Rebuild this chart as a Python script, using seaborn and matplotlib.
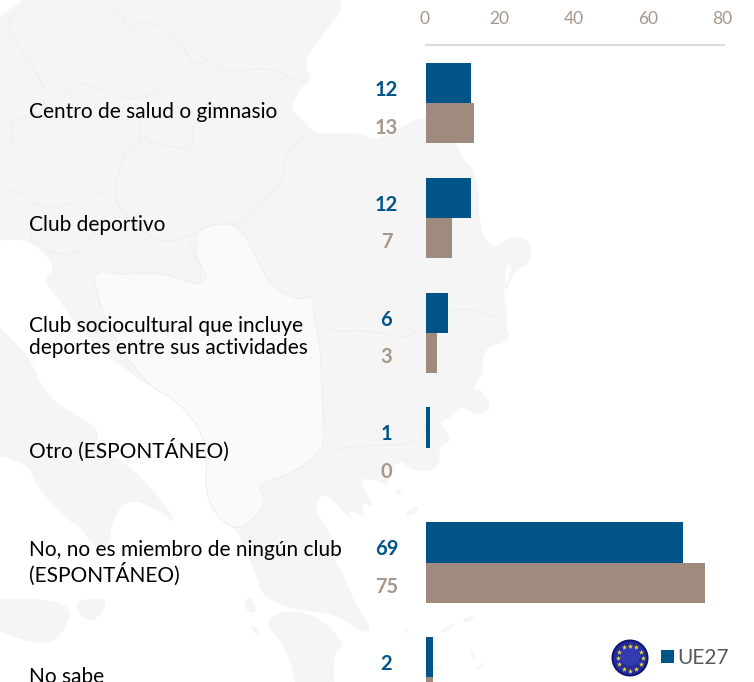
import numpy as np
import pandas as pd
import matplotlib
matplotlib.use('Agg')
import matplotlib.pyplot as plt
from matplotlib.patches import Circle, Polygon, Patch
from matplotlib.transforms import ScaledTranslation
import seaborn as sns

# Chart values
categories = ['Centro de salud o gimnasio', 'Club deportivo',
              'Club sociocultural que incluye\ndeportes entre sus actividades',
              'Otro (ESPONTÁNEO)',
              'No, no es miembro de ningún club\n(ESPONTÁNEO)', 'No sabe']
ue27 = [12, 12, 6, 1, 69, 2]
pais = [13, 7, 3, 0, 75, 2]
x_ticks = [0, 20, 40, 60, 80]

BLUE = '#005488'
BROWN = '#9f8b7e'
BROWN_TXT = '#a6978a'
W, H = 754, 682

sns.set_theme(style='white')
plt.rcParams['font.family'] = ['Lato', 'DejaVu Sans']

df = pd.DataFrame({
    'categoria': categories * 2,
    'valor': ue27 + pais,
    'serie': ['UE27'] * len(ue27) + ['País'] * len(pais),
})

fig = plt.figure(figsize=(W / 100, H / 100), dpi=100, facecolor='white')

# Faint map behind the chart, traced in pixel coordinates
bg = fig.add_axes([0, 0, 1, 1], zorder=0)
bg.set_xlim(0, W)
bg.set_ylim(H, 0)
bg.axis('off')

LAND = '#f5f5f5'
PALE = '#fafafa'
BORDER = '#efefef'


# Round off the traced corners so the coast looks less angular
def smooth(points, closed=True, rounds=2):
    pts = np.array(points, dtype=float)
    for _ in range(rounds):
        nxt = np.roll(pts, -1, axis=0) if closed else pts[1:]
        cur = pts if closed else pts[:-1]
        q = 0.75 * cur + 0.25 * nxt
        r = 0.25 * cur + 0.75 * nxt
        pts = np.empty((len(q) * 2, 2))
        pts[0::2] = q
        pts[1::2] = r
    return pts


mainland = [(-30, -30), (338, -30), (343, 10), (330, 25), (307, 55), (307, 70), (312, 82), (302, 85),
            (290, 110), (300, 117), (313, 133), (330, 133), (360, 133), (375, 141), (395, 130),
            (425, 115), (440, 125), (457, 145), (463, 160), (473, 168), (475, 178), (480, 193),
            (478, 205), (482, 235), (488, 242), (495, 249), (508, 237), (520, 237), (531, 242),
            (531, 263), (517, 270), (512, 278), (508, 288), (503, 290), (507, 313), (507, 330),
            (510, 337), (503, 343), (493, 345), (483, 353), (483, 373), (472, 389), (480, 389),
            (493, 407), (478, 417), (462, 405), (453, 416), (438, 423), (448, 432), (451, 441),
            (438, 448), (441, 460), (432, 472), (410, 470), (402, 460), (390, 470), (388, 487),
            (377, 480), (357, 478), (377, 510), (360, 500), (367, 520), (347, 507), (353, 523),
            (333, 500), (320, 493), (315, 513), (330, 530), (333, 557), (343, 573), (353, 600),
            (373, 630), (363, 633), (333, 613), (293, 610), (263, 597), (257, 577), (240, 540),
            (240, 533), (213, 513), (205, 487), (207, 463), (203, 433), (177, 400), (150, 387),
            (113, 360), (80, 330), (57, 297), (43, 280), (57, 267), (33, 243), (13, 238), (-30, 247)]
italy = [(-30, 300), (0, 327), (30, 357), (45, 395), (75, 415), (100, 430), (95, 447), (130, 465),
         (170, 510), (175, 525), (160, 510), (127, 498), (112, 520), (110, 545), (97, 550), (78, 525),
         (67, 520), (37, 487), (27, 462), (-30, 450)]
calabria = [(77, 600), (110, 597), (97, 620), (85, 620), (77, 610)]
sicily = [(-30, 598), (77, 600), (60, 640), (35, 645), (-30, 620)]
peloponnese = [(270, 617), (290, 610), (320, 617), (347, 647), (333, 650), (335, 705), (300, 705),
               (287, 647), (267, 627)]
islands = [[(243, 600), (252, 597), (257, 613), (247, 612)], [(250, 625), (257, 628), (262, 636), (255, 634)],
           [(440, 630), (456, 622), (452, 628), (442, 634)], [(462, 620), (475, 614), (472, 620), (465, 623)],
           [(402, 628), (410, 632), (408, 635)], [(433, 670), (443, 662), (440, 668)],
           [(473, 672), (486, 660), (483, 668)], [(470, 650), (476, 655), (472, 660)],
           [(395, 492), (400, 488), (402, 492), (397, 495)], [(408, 510), (420, 505), (416, 515), (405, 516)]]
balkans = [(92, 280), (100, 270), (115, 275), (160, 272), (192, 283), (205, 285), (192, 235),
           (215, 223), (240, 225), (262, 270), (275, 290), (300, 300), (315, 295), (312, 310),
           (320, 340), (323, 417), (325, 450), (290, 475), (258, 483), (265, 500), (263, 507),
           (240, 533), (213, 513), (205, 487), (207, 463), (203, 433), (177, 400), (150, 387),
           (113, 340)]
lagoon = [(508, 262), (511, 270), (507, 284), (505, 276)]
border_lines = [
    [(105, 0), (122, 15), (125, 25), (133, 33), (138, 20), (160, 25), (167, 35), (180, 40), (190, 60),
     (200, 65), (208, 58), (222, 72), (245, 70), (270, 68), (300, 82), (312, 82)],
    [(195, 62), (170, 80), (160, 90), (137, 100), (110, 95), (80, 80), (57, 100), (45, 90), (33, 67),
     (10, 33), (8, 17), (33, 0)],
    [(137, 100), (140, 133), (142, 143), (125, 150), (115, 187), (115, 200), (123, 213), (140, 230),
     (163, 243), (190, 237), (213, 223), (240, 225), (263, 203), (283, 180), (285, 160), (297, 140),
     (313, 135)],
    [(0, 188), (20, 192), (37, 207), (63, 207), (87, 195), (113, 190)],
    [(37, 207), (30, 227), (33, 243), (67, 258), (90, 243), (113, 200)],
    [(140, 133), (150, 143), (180, 148), (193, 147), (193, 120), (215, 122)],
    [(0, 140), (15, 147), (10, 117), (43, 117), (45, 90)],
    [(317, 320), (333, 332), (365, 330), (400, 337), (410, 337), (425, 320), (460, 308), (480, 312),
     (490, 317), (508, 316)],
    [(325, 450), (350, 447), (383, 445), (400, 445), (410, 442), (425, 440), (423, 423), (438, 423)],
    [(190, 237), (192, 253), (205, 270), (205, 287)],
]

for shape in [mainland, italy, calabria, sicily, peloponnese] + islands:
    bg.add_patch(Polygon(smooth(shape), closed=True, facecolor=LAND, edgecolor='none'))
bg.add_patch(Polygon(smooth(balkans), closed=True, facecolor=PALE, edgecolor=BORDER, linewidth=0.8))
bg.add_patch(Polygon(lagoon, closed=True, facecolor='white', edgecolor='none'))
for line in border_lines:
    pts = smooth(line, closed=False)
    bg.plot(pts[:, 0], pts[:, 1], color=BORDER, linewidth=0.9)

# Bars
ax = fig.add_axes([426 / W, 0, (724 - 426) / W, (H - 45) / H], zorder=1)
ax.patch.set_alpha(0)
sns.barplot(data=df, x='valor', y='categoria', hue='serie', order=categories,
            hue_order=['UE27', 'País'], palette=[BLUE, BROWN], width=0.7, gap=0,
            saturation=1, linewidth=0, legend=False, ax=ax)
ax.set_xlim(0, 80)
ax.set_ylim(5.04, -0.505)
ax.set_xlabel('')
ax.set_ylabel('')
ax.set_yticks([])
ax.set_xticks(x_ticks)
ax.xaxis.tick_top()
ax.tick_params(axis='x', length=0, pad=13, labelsize=12.5, labelcolor=BROWN_TXT)
shift_left = ScaledTranslation(-1.5 / 100, 0, fig.dpi_scale_trans)
for label in ax.get_xticklabels():
    label.set_transform(label.get_transform() + shift_left)
for side in ['left', 'right', 'bottom']:
    ax.spines[side].set_visible(False)
ax.spines['top'].set_color('#dcdcdc')
ax.spines['top'].set_linewidth(1.5)

# Value labels left of the bars (the last brown one falls below the picture)
for container, values, color, shift in zip(ax.containers, [ue27, pais], [BLUE, BROWN_TXT], [-5, -3.2]):
    for bar, val in zip(container, values):
        yc = bar.get_y() + bar.get_height() / 2
        if yc > ax.get_ylim()[0]:
            continue
        ax.annotate(str(val), xy=(0, yc), xytext=(-28.5, shift), textcoords='offset points',
                    ha='center', va='center', fontsize=14.5, fontweight='bold', color=color,
                    annotation_clip=False)

# Category labels, on their own spacing
label_px = [112, 225, 337, 450, 563, 677]
for cat, y_px in zip(categories, label_px):
    fig.text(29 / W, 1 - y_px / H, cat, ha='left', va='center', fontsize=15,
             color='black', linespacing=1.15)

# Legend
overlay = fig.add_axes([0, 0, 1, 1], zorder=2)
overlay.set_xlim(0, W)
overlay.set_ylim(H, 0)
overlay.axis('off')
overlay.add_patch(Circle((630, 658), 18.5, facecolor='#0d1470', edgecolor='none'))
overlay.add_patch(Circle((630, 658), 16.5, facecolor='#252c9c', edgecolor='none'))
overlay.add_patch(Circle((630, 656), 10, facecolor='#3a43b8', edgecolor='none', alpha=0.7))
angles = np.deg2rad(np.arange(0, 360, 30))
overlay.scatter(630 + 12.5 * np.cos(angles), 658 + 12.5 * np.sin(angles), marker='*', s=16,
                color='#e8d83a', linewidths=0)
overlay.legend(handles=[Patch(facecolor=BLUE, edgecolor='none', label='UE27')], loc='center left',
               bbox_to_anchor=(661 / W, 1 - 658 / H), frameon=False, fontsize=15,
               handlelength=0.62, handleheight=0.62, handletextpad=0.15, borderpad=0, borderaxespad=0,
               labelcolor='#595959')

fig.savefig('out.png', dpi=100)
